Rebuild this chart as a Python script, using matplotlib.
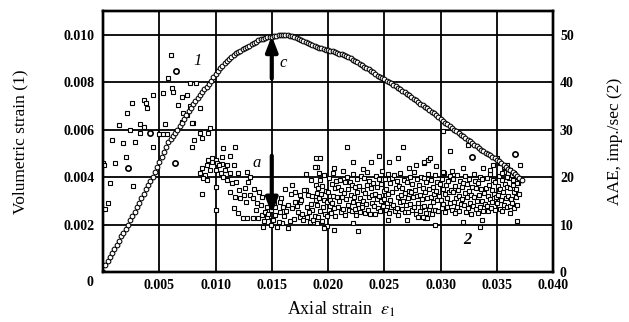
import matplotlib
matplotlib.use("Agg")
import matplotlib.pyplot as plt

plt.rcParams['font.family'] = ['Liberation Serif', 'DejaVu Serif']
plt.rcParams['mathtext.fontset'] = 'stix'

# ---------------- data ----------------
# Curve 1: volumetric strain vs axial strain
axial_strain_1 = [
    0.0000, 0.0002, 0.0004, 0.0006, 0.0008, 0.0010, 0.0012, 0.0014, 0.0016, 0.0018,
    0.0020, 0.0022, 0.0024, 0.0026, 0.0028, 0.0030, 0.0032, 0.0034, 0.0036, 0.0038,
    0.0040, 0.0042, 0.0044, 0.0046, 0.0048, 0.0050, 0.0052, 0.0054, 0.0056, 0.0058,
    0.0060, 0.0062, 0.0064, 0.0066, 0.0068, 0.0070, 0.0072, 0.0074, 0.0076, 0.0078,
    0.0080, 0.0082, 0.0084, 0.0086, 0.0088, 0.0090, 0.0092, 0.0094, 0.0096, 0.0098,
    0.0100, 0.0102, 0.0104, 0.0106, 0.0108, 0.0110, 0.0112, 0.0114, 0.0116, 0.0118,
    0.0120, 0.0122, 0.0124, 0.0126, 0.0128, 0.0130, 0.0132, 0.0134, 0.0136, 0.0138,
    0.0140, 0.0142, 0.0144, 0.0146, 0.0148, 0.0150, 0.0152, 0.0154, 0.0156, 0.0158,
    0.0160, 0.0162, 0.0164, 0.0166, 0.0168, 0.0170, 0.0172, 0.0174, 0.0176, 0.0178,
    0.0180, 0.0182, 0.0184, 0.0186, 0.0188, 0.0190, 0.0192, 0.0194, 0.0196, 0.0198,
    0.0200, 0.0202, 0.0204, 0.0206, 0.0208, 0.0210, 0.0212, 0.0214, 0.0216, 0.0218,
    0.0220, 0.0222, 0.0224, 0.0226, 0.0228, 0.0230, 0.0232, 0.0234, 0.0236, 0.0238,
    0.0240, 0.0242, 0.0244, 0.0246, 0.0248, 0.0250, 0.0252, 0.0254, 0.0256, 0.0258,
    0.0260, 0.0262, 0.0264, 0.0266, 0.0268, 0.0270, 0.0272, 0.0274, 0.0276, 0.0278,
    0.0280, 0.0282, 0.0284, 0.0286, 0.0288, 0.0290, 0.0292, 0.0294, 0.0296, 0.0298,
    0.0300, 0.0302, 0.0304, 0.0306, 0.0308, 0.0310, 0.0312, 0.0314, 0.0316, 0.0318,
    0.0320, 0.0322, 0.0324, 0.0326, 0.0328, 0.0330, 0.0332, 0.0334, 0.0336, 0.0338,
    0.0340, 0.0342, 0.0344, 0.0346, 0.0348, 0.0350, 0.0352, 0.0354, 0.0356, 0.0358,
    0.0360, 0.0362, 0.0364, 0.0366, 0.0368, 0.0370, 0.0372,
]
volumetric_strain = [
    0.00000, 0.00030, 0.00046, 0.00064, 0.00081, 0.00098, 0.00115, 0.00132, 0.00150, 0.00166,
    0.00183, 0.00200, 0.00218, 0.00236, 0.00254, 0.00272, 0.00291, 0.00310, 0.00329, 0.00349,
    0.00367, 0.00384, 0.00402, 0.00422, 0.00443, 0.00464, 0.00486, 0.00506, 0.00528, 0.00546,
    0.00560, 0.00574, 0.00587, 0.00600, 0.00615, 0.00630, 0.00646, 0.00662, 0.00677, 0.00692,
    0.00707, 0.00720, 0.00733, 0.00746, 0.00759, 0.00770, 0.00781, 0.00792, 0.00806, 0.00820,
    0.00834, 0.00846, 0.00858, 0.00870, 0.00880, 0.00890, 0.00899, 0.00908, 0.00916, 0.00922,
    0.00928, 0.00933, 0.00938, 0.00943, 0.00948, 0.00953, 0.00960, 0.00966, 0.00971, 0.00976,
    0.00980, 0.00984, 0.00987, 0.00989, 0.00990, 0.00992, 0.00994, 0.00996, 0.00998, 0.00999,
    0.01000, 0.01000, 0.00999, 0.00996, 0.00993, 0.00989, 0.00985, 0.00981, 0.00977, 0.00972,
    0.00968, 0.00964, 0.00960, 0.00957, 0.00953, 0.00950, 0.00946, 0.00943, 0.00940, 0.00937,
    0.00934, 0.00932, 0.00930, 0.00927, 0.00923, 0.00920, 0.00917, 0.00914, 0.00911, 0.00906,
    0.00900, 0.00894, 0.00889, 0.00884, 0.00878, 0.00872, 0.00866, 0.00860, 0.00854, 0.00848,
    0.00841, 0.00834, 0.00828, 0.00822, 0.00817, 0.00812, 0.00807, 0.00801, 0.00796, 0.00790,
    0.00784, 0.00777, 0.00770, 0.00764, 0.00757, 0.00750, 0.00744, 0.00737, 0.00731, 0.00724,
    0.00717, 0.00710, 0.00703, 0.00697, 0.00690, 0.00682, 0.00675, 0.00668, 0.00660, 0.00652,
    0.00644, 0.00637, 0.00630, 0.00622, 0.00614, 0.00607, 0.00600, 0.00593, 0.00586, 0.00579,
    0.00572, 0.00565, 0.00558, 0.00551, 0.00544, 0.00537, 0.00530, 0.00523, 0.00516, 0.00509,
    0.00503, 0.00497, 0.00491, 0.00485, 0.00479, 0.00474, 0.00468, 0.00460, 0.00452, 0.00444,
    0.00436, 0.00429, 0.00421, 0.00413, 0.00405, 0.00397, 0.00389,
]

# Series 2: AAE (imp./sec) vs axial strain -- early sparse part (eps < 0.0102)
aae_strain_early = [
    0.0000, 0.0001, 0.0011, 0.0002, 0.0004, 0.0006, 0.0027, 0.0020, 0.0008, 0.0018,
    0.0028, 0.0044, 0.0024, 0.0033, 0.0050, 0.0053, 0.0057, 0.0014, 0.0033, 0.0036,
    0.0055, 0.0070, 0.0080, 0.0071, 0.0075, 0.0086, 0.0067, 0.0077, 0.0021, 0.0026,
    0.0036, 0.0038, 0.0039, 0.0044, 0.0070, 0.0075, 0.0053, 0.0061, 0.0062, 0.0058,
    0.0077, 0.0083, 0.0060, 0.0079, 0.0086, 0.0095, 0.0081, 0.0079, 0.0088, 0.0093,
    0.0088, 0.0092, 0.0097, 0.0100, 0.0086, 0.0091, 0.0095, 0.0100, 0.0089, 0.0092,
    0.0088, 0.0100, 0.0100,
]
aae_early = [
    23.0, 22.6, 23.0, 13.3, 14.5, 18.7, 18.1, 24.2, 27.8, 27.2,
    27.4, 26.3, 29.9, 29.3, 29.1, 29.1, 29.1, 31.0, 31.2, 30.6,
    31.2, 31.6, 31.4, 33.5, 33.1, 34.5, 35.2, 35.0, 33.5, 35.6,
    36.2, 35.6, 34.5, 37.3, 36.8, 37.3, 37.7, 38.7, 37.9, 40.8,
    39.8, 39.8, 45.7, 31.4, 29.3, 30.3, 27.8, 26.3, 28.2, 29.3,
    21.9, 22.5, 23.2, 23.6, 20.8, 20.4, 21.5, 21.5, 19.8, 19.4,
    16.4, 17.9, 13.1,
]

# AAE -- transition part (0.010 < eps < 0.019)
aae_strain_mid = [
    0.0107, 0.0117, 0.0113, 0.0106, 0.0093, 0.0097, 0.0101, 0.0106, 0.0110, 0.0116,
    0.0103, 0.0108, 0.0113, 0.0105, 0.0107, 0.0110, 0.0115, 0.0120, 0.0128, 0.0131,
    0.0129, 0.0126, 0.0113, 0.0117, 0.0122, 0.0125, 0.0131, 0.0133, 0.0137, 0.0140,
    0.0141, 0.0116, 0.0120, 0.0124, 0.0128, 0.0133, 0.0138, 0.0141, 0.0144, 0.0146,
    0.0142, 0.0149, 0.0155, 0.0159, 0.0164, 0.0146, 0.0150, 0.0153, 0.0157, 0.0160,
    0.0153, 0.0149, 0.0157, 0.0164, 0.0168, 0.0171, 0.0173, 0.0175, 0.0178, 0.0181,
    0.0184, 0.0187, 0.0190, 0.0171, 0.0175, 0.0180, 0.0182, 0.0175, 0.0181, 0.0186,
    0.0189, 0.0190, 0.0189, 0.0189, 0.0190, 0.0143, 0.0147, 0.0151, 0.0152, 0.0156,
    0.0158, 0.0161, 0.0163, 0.0166, 0.0167, 0.0170, 0.0172, 0.0176, 0.0177, 0.0179,
    0.0183, 0.0185, 0.0186, 0.0188, 0.0136, 0.0139, 0.0134, 0.0127, 0.0121, 0.0118,
    0.0162, 0.0168, 0.0185, 0.0180, 0.0192,
]
aae_mid = [
    26.1, 26.3, 24.4, 24.2, 23.6, 24.0, 23.0, 22.7, 22.5, 22.5,
    22.5, 21.5, 20.8, 20.8, 20.0, 19.4, 18.7, 20.8, 21.0, 20.0,
    18.9, 17.7, 16.8, 15.8, 15.6, 16.2, 16.2, 15.6, 14.5, 14.1,
    15.8, 13.5, 12.4, 11.4, 11.4, 11.4, 11.4, 12.0, 12.6, 13.7,
    9.5, 9.9, 9.5, 10.3, 9.3, 11.6, 10.9, 12.0, 12.6, 13.7,
    13.7, 13.1, 14.7, 14.1, 13.5, 14.7, 12.6, 11.6, 10.9, 11.6,
    10.5, 10.9, 10.3, 16.8, 16.2, 17.3, 16.2, 14.7, 13.7, 13.1,
    15.2, 22.1, 24.0, 18.3, 16.6, 10.8, 12.2, 11.0, 14.6, 10.6,
    15.6, 11.8, 12.9, 10.8, 16.4, 11.2, 13.9, 15.1, 12.3, 17.2,
    12.6, 14.4, 16.0, 11.7, 13.0, 16.8, 17.5, 14.8, 17.2, 19.0,
    17.5, 18.3, 19.3, 20.6, 20.8,
]

# AAE -- dense band (0.019 < eps < 0.037)
aae_strain_band = [
    0.01903, 0.01908, 0.01914, 0.01920, 0.01926, 0.01931, 0.01937, 0.01943, 0.01949, 0.01955, 0.01961, 0.01967, 0.01973, 0.01980, 0.01987, 0.01994,
    0.02002, 0.02008, 0.02013, 0.02019, 0.02025, 0.02031, 0.02036, 0.02042, 0.02048, 0.02054, 0.02060, 0.02066, 0.02072, 0.02079, 0.02086, 0.02093,
    0.02101, 0.02107, 0.02113, 0.02119, 0.02125, 0.02130, 0.02136, 0.02142, 0.02148, 0.02155, 0.02161, 0.02167, 0.02174, 0.02180, 0.02187, 0.02194,
    0.02203, 0.02209, 0.02214, 0.02220, 0.02226, 0.02232, 0.02238, 0.02244, 0.02249, 0.02255, 0.02261, 0.02268, 0.02274, 0.02281, 0.02288, 0.02295,
    0.02302, 0.02308, 0.02314, 0.02319, 0.02325, 0.02331, 0.02337, 0.02343, 0.02349, 0.02355, 0.02361, 0.02367, 0.02373, 0.02380, 0.02387, 0.02394,
    0.02403, 0.02408, 0.02414, 0.02420, 0.02426, 0.02432, 0.02437, 0.02443, 0.02449, 0.02455, 0.02461, 0.02467, 0.02474, 0.02480, 0.02487, 0.02494,
    0.02502, 0.02508, 0.02513, 0.02519, 0.02525, 0.02531, 0.02537, 0.02543, 0.02549, 0.02555, 0.02561, 0.02567, 0.02573, 0.02580, 0.02587, 0.02594,
    0.02603, 0.02609, 0.02614, 0.02620, 0.02626, 0.02632, 0.02638, 0.02644, 0.02649, 0.02655, 0.02661, 0.02668, 0.02674, 0.02681, 0.02688, 0.02695,
    0.02702, 0.02708, 0.02714, 0.02719, 0.02725, 0.02731, 0.02737, 0.02743, 0.02749, 0.02755, 0.02761, 0.02767, 0.02773, 0.02780, 0.02787, 0.02794,
    0.02803, 0.02808, 0.02814, 0.02820, 0.02826, 0.02832, 0.02837, 0.02843, 0.02849, 0.02855, 0.02861, 0.02867, 0.02874, 0.02880, 0.02887, 0.02894,
    0.02902, 0.02908, 0.02913, 0.02919, 0.02925, 0.02931, 0.02937, 0.02943, 0.02949, 0.02955, 0.02961, 0.02967, 0.02973, 0.02980, 0.02987, 0.02994,
    0.03003, 0.03009, 0.03014, 0.03020, 0.03026, 0.03032, 0.03038, 0.03044, 0.03049, 0.03055, 0.03061, 0.03068, 0.03074, 0.03081, 0.03088, 0.03095,
    0.03102, 0.03108, 0.03114, 0.03119, 0.03125, 0.03131, 0.03137, 0.03143, 0.03149, 0.03155, 0.03161, 0.03167, 0.03173, 0.03180, 0.03187, 0.03194,
    0.03203, 0.03208, 0.03214, 0.03220, 0.03226, 0.03232, 0.03237, 0.03243, 0.03249, 0.03255, 0.03261, 0.03267, 0.03274, 0.03280, 0.03287, 0.03294,
    0.03302, 0.03308, 0.03313, 0.03319, 0.03325, 0.03331, 0.03337, 0.03343, 0.03349, 0.03355, 0.03361, 0.03367, 0.03373, 0.03380, 0.03387, 0.03394,
    0.03403, 0.03409, 0.03414, 0.03420, 0.03426, 0.03432, 0.03438, 0.03444, 0.03449, 0.03455, 0.03461, 0.03468, 0.03474, 0.03481, 0.03488, 0.03495,
    0.03502, 0.03508, 0.03514, 0.03519, 0.03525, 0.03531, 0.03537, 0.03543, 0.03549, 0.03555, 0.03561, 0.03567, 0.03573, 0.03580, 0.03587, 0.03594,
    0.03603, 0.03608, 0.03614, 0.03620, 0.03626, 0.03632, 0.03637, 0.03643, 0.03649, 0.03655, 0.03661, 0.03667, 0.03674, 0.03680, 0.03687, 0.03694,
]
aae_band = [
    14.2, 17.8, 11.5, 15.6, 19.3, 12.8, 16.4, 10.7, 18.2, 13.6, 15.1, 20.4, 12.2, 17.0, 14.8, 11.9,
    16.9, 13.1, 19.8, 15.2, 12.4, 18.6, 14.6, 20.9, 16.1, 13.4, 17.7, 11.8, 19.1, 15.7, 13.8, 18.0,
    14.9, 19.4, 12.6, 17.3, 15.8, 21.2, 13.2, 16.6, 18.9, 12.1, 15.4, 20.1, 14.1, 17.5, 13.0, 19.0,
    16.3, 12.9, 18.4, 14.7, 20.6, 15.9, 13.3, 17.9, 12.0, 19.6, 16.8, 14.3, 18.1, 12.7, 15.5, 20.2,
    13.7, 17.2, 15.0, 19.9, 12.5, 16.7, 14.4, 21.0, 18.3, 13.1, 15.9, 19.2, 12.3, 17.6, 14.6, 16.2,
    18.7, 14.0, 16.5, 12.2, 20.3, 15.3, 17.9, 13.5, 19.5, 16.0, 12.9, 18.5, 14.9, 21.3, 13.9, 17.1,
    15.4, 19.7, 13.0, 17.4, 14.5, 20.7, 16.4, 12.4, 18.8, 15.1, 13.6, 19.9, 16.9, 14.2, 20.5, 12.8,
    17.6, 13.4, 19.1, 15.7, 12.1, 18.2, 14.8, 20.8, 16.3, 13.2, 17.8, 15.0, 19.4, 12.6, 16.6, 14.1,
    19.0, 15.5, 12.7, 17.0, 20.1, 14.4, 16.8, 13.1, 18.6, 15.9, 21.1, 13.8, 17.3, 12.3, 19.6, 16.1,
    14.6, 18.3, 16.2, 12.9, 20.0, 15.3, 13.6, 17.7, 19.8, 14.0, 16.9, 12.5, 18.9, 15.6, 20.6, 13.3,
    17.4, 13.9, 19.3, 15.8, 12.2, 18.0, 14.7, 16.5, 20.4, 13.0, 17.1, 15.2, 19.0, 12.8, 16.0, 18.6,
    15.1, 19.7, 13.5, 17.5, 14.3, 20.9, 16.4, 12.6, 18.4, 15.6, 13.8, 19.2, 16.8, 14.5, 20.3, 17.2,
    13.1, 16.9, 19.5, 14.8, 12.4, 18.1, 15.5, 20.5, 13.7, 17.3, 16.0, 12.9, 19.1, 14.4, 17.9, 15.3,
    18.8, 14.1, 16.6, 20.2, 12.7, 15.9, 18.5, 13.4, 17.0, 19.7, 14.6, 12.2, 16.3, 18.0, 13.9, 20.7,
    15.7, 19.2, 13.2, 17.6, 14.9, 12.5, 18.7, 16.2, 20.1, 13.6, 17.4, 15.0, 19.6, 12.9, 16.7, 14.3,
    17.8, 14.0, 19.9, 16.1, 12.8, 18.4, 15.4, 20.6, 13.5, 17.2, 14.7, 19.3, 16.5, 13.1, 18.9, 15.8,
    14.5, 18.1, 16.3, 20.3, 13.3, 17.5, 15.2, 19.4, 12.9, 16.8, 21.0, 14.2, 18.6, 15.6, 13.7, 17.9,
    16.0, 19.8, 13.9, 17.7, 15.3, 20.5, 14.6, 18.3, 16.9, 13.4, 19.1, 15.7, 17.4, 14.1, 18.8, 16.4,
]

# AAE -- outliers above / below the band and near the end of curve 1
aae_strain_outer = [
    0.0217, 0.0193, 0.0188, 0.0222, 0.0238, 0.0245, 0.0254, 0.0262, 0.0267, 0.0278,
    0.0285, 0.0289, 0.0285, 0.0291, 0.0302, 0.0308, 0.0324, 0.0320, 0.0310, 0.0302,
    0.0338, 0.0205, 0.0231, 0.0272, 0.0296, 0.0350, 0.0353, 0.0356, 0.0359, 0.0362,
    0.0365, 0.0368, 0.0371, 0.0355, 0.0359, 0.0364, 0.0368, 0.0371, 0.0347, 0.0344,
    0.0205, 0.0227, 0.0222, 0.0253, 0.0270, 0.0286, 0.0280, 0.0295, 0.0320, 0.0337,
    0.0335, 0.0368, 0.0362, 0.0284, 0.0288, 0.0199, 0.0196,
]
aae_outer = [
    26.3, 24.0, 22.1, 23.2, 23.2, 24.4, 23.2, 24.0, 26.3, 22.5,
    22.9, 23.6, 23.2, 24.0, 29.8, 25.5, 26.7, 21.9, 21.3, 21.1,
    21.9, 22.0, 21.8, 21.9, 22.4, 24.0, 23.0, 22.1, 22.5, 21.5,
    20.8, 20.0, 19.4, 20.8, 20.0, 19.4, 18.7, 22.5, 22.6, 21.4,
    8.8, 8.6, 10.3, 10.9, 10.9, 11.4, 11.6, 9.9, 10.5, 10.9,
    9.5, 10.7, 12.4, 11.6, 11.4, 9.6, 9.2,
]

# AAE points drawn as circles in the original
aae_strain_round = [0.0065, 0.0022, 0.0064, 0.0042, 0.0328, 0.0366]
aae_round = [42.3, 21.9, 23.0, 29.3, 24.3, 24.8]

x_ticks = [0.005, 0.010, 0.015, 0.020, 0.025, 0.030, 0.035, 0.040]
x_tick_labels = ["0.005", "0.010", "0.015", "0.020", "0.025", "0.030", "0.035", "0.040"]
vol_ticks = [0.002, 0.004, 0.006, 0.008, 0.010]
vol_tick_labels = ["0.002", "0.004", "0.006", "0.008", "0.010"]
aae_ticks = [0, 10, 20, 30, 40, 50]
aae_tick_labels = ["0", "10", "20", "30", "40", "50"]

# ---------------- figure ----------------
fig = plt.figure(figsize=(6.29, 3.22), dpi=100)
ax = fig.add_axes([0.1638, 0.1553, 0.7154, 0.8106])
ax2 = ax.twinx()
ax2.set_position([0.1638, 0.1553, 0.7154, 0.8106])

ax.set_xlim(0, 0.040)
ax.set_ylim(0, 0.011)
ax2.set_ylim(0, 55)

tick_fs = 10
ax.set_xticks(x_ticks)
ax.set_xticklabels(x_tick_labels, fontsize=tick_fs, fontweight='bold')
ax.set_yticks(vol_ticks)
ax.set_yticklabels(vol_tick_labels, fontsize=tick_fs, fontweight='bold')
ax2.set_yticks(aae_ticks)
ax2.set_yticklabels(aae_tick_labels, fontsize=tick_fs, fontweight='bold')

ax.tick_params(axis='x', length=0, pad=5)
ax.tick_params(axis='y', length=0, pad=6)
ax2.tick_params(axis='y', length=0, pad=5)

ax.grid(True, color='black', linewidth=1.3)
ax.set_axisbelow(True)
for sp in list(ax.spines.values()) + list(ax2.spines.values()):
    sp.set_linewidth(1.7)
    sp.set_color('black')

sq = dict(linestyle='none', marker='s', markersize=3.4, markerfacecolor='white',
          markeredgecolor='black', markeredgewidth=0.8)
ax2.plot(aae_strain_early, aae_early, **sq)
ax2.plot(aae_strain_mid, aae_mid, **sq)
ax2.plot(aae_strain_band, aae_band, **sq)
ax2.plot(aae_strain_outer, aae_outer, **sq)
ax2.plot(aae_strain_round, aae_round, linestyle='none', marker='o', markersize=3.8,
         markerfacecolor='white', markeredgecolor='black', markeredgewidth=1.2)

ax2.plot(axial_strain_1, volumetric_strain, linestyle='none', marker='o', markersize=3.4,
         markerfacecolor='white', markeredgecolor='black', markeredgewidth=0.75,
         transform=ax.transData)

# arrows
arrow_kw = dict(arrowstyle='-|>,head_length=0.9,head_width=0.35', color='black', lw=3.0,
                shrinkA=0, shrinkB=0)
ax2.annotate('', xy=(0.0150, 0.00995), xytext=(0.0150, 0.00815), xycoords=ax.transData,
             textcoords=ax.transData, arrowprops=arrow_kw, zorder=6)
ax2.annotate('', xy=(0.0150, 0.00245), xytext=(0.0150, 0.00490), xycoords=ax.transData,
             textcoords=ax.transData, arrowprops=arrow_kw, zorder=6)

# curve labels
ax2.text(0.0084, 0.0089, '1', transform=ax.transData, fontsize=12, fontstyle='italic',
         ha='center', va='center')
ax2.text(0.0324, 0.00134, '2', transform=ax.transData, fontsize=12, fontstyle='italic',
         fontweight='bold', ha='center', va='center')
ax2.text(0.0137, 0.0046, 'a', transform=ax.transData, fontsize=12, fontstyle='italic',
         ha='center', va='center')
ax2.text(0.0160, 0.0088, 'c', transform=ax.transData, fontsize=12, fontstyle='italic',
         ha='center', va='center')

# origin label
ax.text(-0.029, -0.042, '0', transform=ax.transAxes, fontsize=tick_fs, fontweight='bold',
        ha='center', va='center')

ax.set_xlabel(r'Axial strain  $\varepsilon_1$', fontsize=13)
ax.xaxis.set_label_coords(0.53, -0.105)
ax.set_ylabel('Volumetric strain (1)', fontsize=12.5)
ax.yaxis.set_label_coords(-0.165, 0.5)
ax2.set_ylabel('AAE, imp./sec (2)', fontsize=12.5, rotation=90)
ax2.yaxis.set_label_coords(1.12, 0.5)

fig.savefig('out.png', dpi=100)
